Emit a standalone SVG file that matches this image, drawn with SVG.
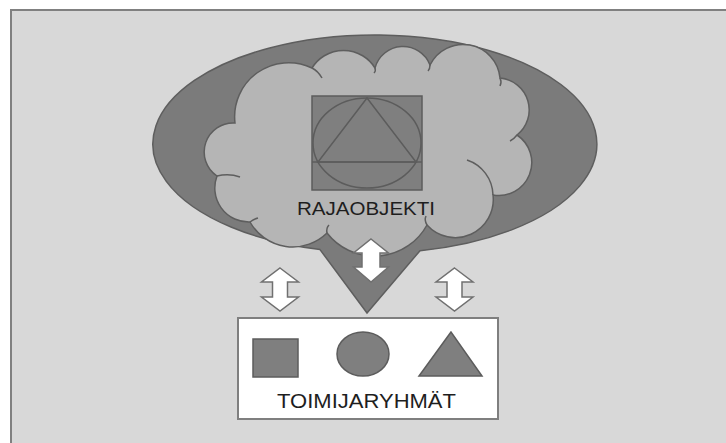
<svg xmlns="http://www.w3.org/2000/svg" width="726" height="443" viewBox="0 0 726 443">
<style>
.shape{fill:#7f7f7f;stroke:#5c5c5c;stroke-width:1.5}
.arrow{fill:#ffffff;stroke:#707070;stroke-width:1.5;stroke-linejoin:miter}
.tail{fill:none;stroke:#5e5e5e;stroke-width:1.5}
.lbl{font-family:"Liberation Sans",Arial,sans-serif;fill:#1e1e1e;text-anchor:middle}
</style>
<rect x="0" y="0" width="726" height="443" fill="#ffffff"/>
<rect x="11" y="10" width="730" height="450" fill="#d8d8d8" stroke="#808080" stroke-width="2"/>
<g id="bubble">
<path d="M320,249.6 A222,109 0 1 1 420,250.7 L367,313 Z" fill="#7b7b7b" stroke="#5e5e5e" stroke-width="1.5"/>
</g>
<g id="rajaobjekti">
<path d="M250,222 A34,34 0 0 1 217,176 A29,29 0 0 1 235,123 A54,54 0 0 1 312,68 A37,37 0 0 1 375,68 A29,29 0 0 1 430,65 A37,37 0 0 1 500,78 A32,32 0 0 1 517,135 A33,33 0 0 1 493,195 A38,38 0 0 1 427,225 A60,60 0 0 1 327,233 A49,49 0 0 1 250,222 Z" fill="#b5b5b5" stroke="#5e5e5e" stroke-width="1.5"/>
<path class="tail" d="M250,222 Q254,219 258,218"/>
<path class="tail" d="M217,176 Q229,173 240,177"/>
<path class="tail" d="M312,68 Q318,71 322,78"/>
<path class="tail" d="M375,68 Q376,71 374,73"/>
<path class="tail" d="M430,65 Q430,69 428,71"/>
<path class="tail" d="M500,78 Q502,82 500,86"/>
<path class="tail" d="M517,135 Q514,139 510,141"/>
<path class="tail" d="M493,195 A38,38 0 0 0 467,160"/>
<path class="tail" d="M427,225 Q424,220 426,216"/>
<path class="tail" d="M327,233 Q326,228 329,225"/>
<rect class="shape" x="312" y="96" width="110" height="94"/>
<ellipse class="shape" cx="367" cy="143" rx="54" ry="45"/>
<polygon class="shape" points="367,98 318,162 416,162"/>
<line x1="312" y1="162" x2="422" y2="162" stroke="#5c5c5c" stroke-width="1.5"/>
<text class="lbl" x="366" y="215" font-size="18" textLength="138" lengthAdjust="spacingAndGlyphs">RAJAOBJEKTI</text>
</g>
<g id="connectors">
<polygon class="arrow" points="280,268 298.5,282 287.5,282 287.5,297 298.5,297 280,311 261.5,297 272.5,297 272.5,282 261.5,282"/>
<polygon class="arrow" points="454.5,268 473,282 462,282 462,297 473,297 454.5,311 436,297 447,297 447,282 436,282"/>
<polygon class="arrow" points="371,239 388.5,253 380,253 380,267 388.5,267 371,282 353.5,267 362,267 362,253 353.5,253"/>
</g>
<g id="toimijaryhmat">
<rect x="238" y="318" width="260" height="101" fill="#ffffff" stroke="#7f7f7f" stroke-width="2"/>
<rect class="shape" x="253" y="339" width="45" height="38"/>
<ellipse class="shape" cx="363" cy="354" rx="26" ry="22"/>
<polygon class="shape" points="451,332 419,376 482,376"/>
<text class="lbl" x="366.5" y="408" font-size="20" textLength="179" lengthAdjust="spacingAndGlyphs">TOIMIJARYHMÄT</text>
</g>
</svg>
